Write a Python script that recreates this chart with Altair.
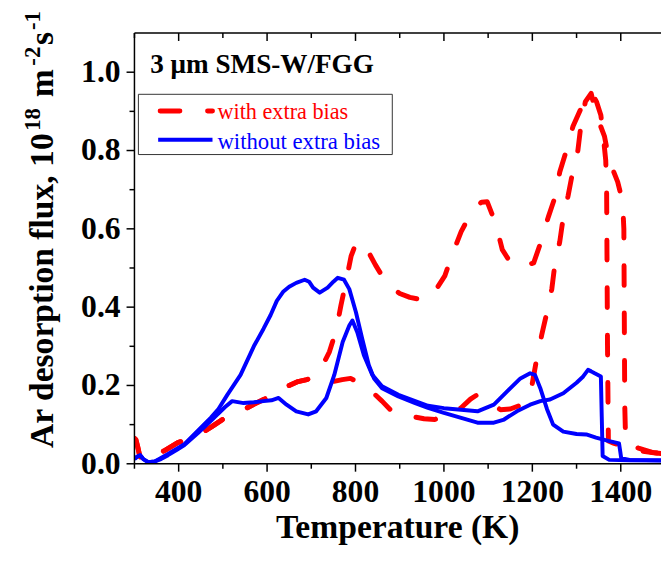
import altair as alt
import pandas as pd

# ---------------- data ----------------
# shared start of the two "with extra bias" runs
red_common_T = [300, 303, 307, 312, 318, 330, 346, 370, 398, 420, 447, 475, 499, 525, 547, 570, 592, 620, 644, 670, 690, 707]
red_common_F = [0.065, 0.062, 0.045, 0.02, 0.008, 0.01, 0.02, 0.035, 0.054, 0.062, 0.075, 0.095, 0.113, 0.126, 0.138, 0.152, 0.164, 0.18, 0.197, 0.21, 0.215, 0.222]

red1_T = [725, 741, 756, 767, 778, 790, 800, 812, 825, 845, 860, 875, 900, 923, 945, 964, 985, 1002, 1020, 1039, 1065, 1085, 1098, 1117, 1132, 1147, 1162, 1180, 1203, 1218, 1236, 1251, 1262, 1277, 1292, 1315, 1335, 1345, 1355, 1361, 1366, 1368, 1370, 1372, 1385, 1400, 1420, 1450, 1475, 1491]
red1_F = [0.25, 0.286, 0.34, 0.404, 0.463, 0.53, 0.56, 0.568, 0.55, 0.508, 0.48, 0.454, 0.435, 0.425, 0.42, 0.42, 0.45, 0.48, 0.538, 0.593, 0.648, 0.668, 0.669, 0.614, 0.547, 0.52, 0.505, 0.505, 0.513, 0.562, 0.63, 0.68, 0.745, 0.80, 0.862, 0.92, 0.946, 0.925, 0.89, 0.83, 0.775, 0.70, 0.30, 0.058, 0.052, 0.048, 0.04, 0.032, 0.028, 0.026]

red2_T = [741, 770, 789, 810, 825, 841, 860, 879, 905, 931, 955, 979, 1005, 1039, 1060, 1075, 1087, 1110, 1128, 1150, 1177, 1190, 1199, 1210, 1221, 1233, 1244, 1251, 1262, 1270, 1281, 1292, 1303, 1310, 1320, 1333, 1345, 1363, 1374, 1393, 1404, 1407, 1409, 1411, 1420, 1440, 1471, 1491]
red2_F = [0.208, 0.215, 0.218, 0.205, 0.19, 0.18, 0.16, 0.138, 0.125, 0.12, 0.115, 0.113, 0.125, 0.143, 0.165, 0.176, 0.168, 0.152, 0.138, 0.14, 0.151, 0.175, 0.2, 0.269, 0.328, 0.387, 0.446, 0.51, 0.567, 0.63, 0.685, 0.75, 0.80, 0.866, 0.925, 0.946, 0.89, 0.837, 0.774, 0.72, 0.67, 0.6, 0.15, 0.06, 0.048, 0.04, 0.029, 0.026]

blue1_T = [300, 306, 313, 320, 331, 346, 360, 376, 395, 413, 443, 473, 490, 510, 540, 570, 592, 608, 622, 637, 650, 666, 685, 695, 704, 719, 737, 750, 760, 774, 786, 801, 815, 830, 842, 860, 897, 935, 964, 1000, 1039, 1076, 1113, 1136, 1165, 1195, 1218, 1240, 1270, 1300, 1315, 1326, 1333, 1341, 1355, 1357, 1359, 1374, 1420, 1491]
blue1_F = [0.012, 0.018, 0.022, 0.012, 0.004, 0.006, 0.015, 0.025, 0.038, 0.05, 0.084, 0.118, 0.14, 0.176, 0.227, 0.30, 0.345, 0.38, 0.416, 0.44, 0.452, 0.462, 0.47, 0.465, 0.45, 0.437, 0.45, 0.465, 0.475, 0.47, 0.446, 0.387, 0.32, 0.252, 0.218, 0.193, 0.172, 0.155, 0.143, 0.13, 0.117, 0.105, 0.105, 0.113, 0.134, 0.151, 0.16, 0.164, 0.18, 0.207, 0.223, 0.24, 0.236, 0.231, 0.223, 0.12, 0.02, 0.01, 0.009, 0.008]

blue2_T = [300, 306, 313, 320, 331, 346, 360, 376, 395, 413, 443, 473, 488, 505, 521, 547, 570, 592, 610, 626, 644, 666, 693, 711, 734, 752, 771, 786, 793, 804, 819, 838, 860, 897, 935, 964, 1000, 1039, 1076, 1113, 1143, 1173, 1195, 1206, 1218, 1233, 1247, 1270, 1300, 1322, 1344, 1374, 1396, 1399, 1401, 1420, 1491]
blue2_F = [0.012, 0.018, 0.022, 0.012, 0.004, 0.006, 0.012, 0.022, 0.035, 0.048, 0.078, 0.11, 0.126, 0.145, 0.16, 0.155, 0.157, 0.16, 0.162, 0.168, 0.151, 0.134, 0.126, 0.134, 0.168, 0.227, 0.311, 0.353, 0.366, 0.336, 0.277, 0.227, 0.198, 0.176, 0.16, 0.148, 0.142, 0.138, 0.134, 0.151, 0.185, 0.218, 0.231, 0.227, 0.193, 0.14, 0.10, 0.082, 0.076, 0.075, 0.067, 0.058, 0.052, 0.03, 0.014, 0.01, 0.009]

series_names = ["with extra bias", "without extra bias"]
x_major = [400, 600, 800, 1000, 1200, 1400]
x_major_labels = ["400", "600", "800", "1000", "1200", "1400"]
x_minor = [300, 500, 700, 900, 1100, 1300]
y_major = [0.0, 0.2, 0.4, 0.6, 0.8, 1.0]
y_major_labels = ["0.0", "0.2", "0.4", "0.6", "0.8", "1.0"]
y_minor = [0.1, 0.3, 0.5, 0.7, 0.9]
sample_label = "3 \u03bcm SMS-W/FGG"
x_title = "Temperature (K)"
y_title_parts = ["Ar desorption flux, 10", "18", "m", "-2", "s", "-1"]

# ---------------- layout ----------------
W, H = 533, 436
FONT = "Liberation Serif"
RED = "#ff0000"
BLUE = "#0000ff"

xs = alt.Scale(domain=[300, 1491], nice=False, zero=False)
ys = alt.Scale(domain=[0, 1.1], nice=False, zero=False)


def runs_df(runs):
    rows = []
    for name, Ts, Fs in runs:
        for t, f in zip(Ts, Fs):
            rows.append({"T": t, "flux": f, "run": name})
    return pd.DataFrame(rows)


red_df = runs_df([("r1", red_common_T + red1_T, red_common_F + red1_F),
                  ("r2", red_common_T + red2_T, red_common_F + red2_F)])
blue_df = runs_df([("b1", blue1_T, blue1_F), ("b2", blue2_T, blue2_F)])

red = alt.Chart(red_df).mark_line(color=RED, strokeWidth=5, strokeDash=[20, 28], strokeCap="round",
                                  strokeJoin="round", clip=True).encode(
    x=alt.X("T:Q", scale=xs, axis=None),
    y=alt.Y("flux:Q", scale=ys, axis=None),
    detail="run:N",
)
blue = alt.Chart(blue_df).mark_line(color=BLUE, strokeWidth=4, strokeJoin="round", clip=True).encode(
    x=alt.X("T:Q", scale=xs, axis=None),
    y=alt.Y("flux:Q", scale=ys, axis=None),
    detail="run:N",
)

one = pd.DataFrame({"i": [0]})
xminor_df = pd.DataFrame({"t": x_minor})
xmajor_df = pd.DataFrame({"t": x_major, "lab": x_major_labels})
yminor_df = pd.DataFrame({"v": y_minor})
ymajor_df = pd.DataFrame({"v": y_major, "lab": y_major_labels})

# ---- axes drawn from the tick lists through the shared scales ----
tick_style = dict(color="black", strokeWidth=1.5)
bottom_line = alt.Chart(one).mark_rule(**tick_style).encode(
    x=alt.value(0), x2=alt.value(W), y=alt.value(H))
left_line = alt.Chart(one).mark_rule(**tick_style).encode(
    x=alt.value(0), y=alt.value(0), y2=alt.value(H))
top_line = alt.Chart(one).mark_rule(**tick_style).encode(
    x=alt.value(0), x2=alt.value(W), y=alt.value(0))

bottom_major = alt.Chart(xmajor_df).mark_rule(**tick_style).encode(
    x=alt.X("t:Q", scale=xs, axis=None), y=alt.value(H), y2=alt.value(H + 8))
bottom_minor = alt.Chart(xminor_df).mark_rule(**tick_style).encode(
    x=alt.X("t:Q", scale=xs, axis=None), y=alt.value(H), y2=alt.value(H + 5))
top_major = alt.Chart(xmajor_df).mark_rule(**tick_style).encode(
    x=alt.X("t:Q", scale=xs, axis=None), y=alt.value(0), y2=alt.value(8))
top_minor = alt.Chart(xminor_df).mark_rule(**tick_style).encode(
    x=alt.X("t:Q", scale=xs, axis=None), y=alt.value(0), y2=alt.value(5))
left_major = alt.Chart(ymajor_df).mark_rule(**tick_style).encode(
    y=alt.Y("v:Q", scale=ys, axis=None), x=alt.value(-8), x2=alt.value(0))
left_minor = alt.Chart(yminor_df).mark_rule(**tick_style).encode(
    y=alt.Y("v:Q", scale=ys, axis=None), x=alt.value(-5), x2=alt.value(0))

x_labels = alt.Chart(xmajor_df).mark_text(font=FONT, fontSize=32, fontWeight="bold", color="black",
                                          align="center", baseline="alphabetic").encode(
    x=alt.X("t:Q", scale=xs, axis=None), y=alt.value(H + 39), text="lab:N")
y_labels = alt.Chart(ymajor_df).mark_text(font=FONT, fontSize=32, fontWeight="bold", color="black",
                                          align="right", baseline="middle").encode(
    y=alt.Y("v:Q", scale=ys, axis=None), x=alt.value(-14), text="lab:N")


def label(text, x, y, size, weight="bold", color="black", angle=0, align="left"):
    return alt.Chart(one).mark_text(font=FONT, fontSize=size, fontWeight=weight, color=color,
                                    align=align, baseline="alphabetic", angle=angle).encode(
        x=alt.value(x), y=alt.value(y), text=alt.value(text))


xtitle = label(x_title, W / 2, H + 75, 34, align="center")

# rotated y title with superscripts
ytitle = [
    label(y_title_parts[0], -82, 420, 34, angle=270),
    label(y_title_parts[1], -96, 99, 23, angle=270),
    label(y_title_parts[2], -82, 65, 34, angle=270),
    label(y_title_parts[3], -96, 33, 23, angle=270),
    label(y_title_parts[4], -82, 12, 34, angle=270),
    label(y_title_parts[5], -96, -3, 23, angle=270),
]

annot = label(sample_label, 16, 40, 27.5)

# legend
leg_box = alt.Chart(one).mark_rect(fill="white", stroke="#333333", strokeWidth=1).encode(
    x=alt.value(4), x2=alt.value(261), y=alt.value(62), y2=alt.value(123))
leg_red = alt.Chart(one).mark_rule(color=RED, strokeWidth=5, strokeDash=[20, 28], strokeCap="round").encode(
    x=alt.value(26), x2=alt.value(79), y=alt.value(79))
leg_blue = alt.Chart(one).mark_rule(color=BLUE, strokeWidth=4).encode(
    x=alt.value(24), x2=alt.value(79), y=alt.value(108))
leg_t1 = label(series_names[0], 84, 87, 22.5, weight="normal", color=RED)
leg_t2 = label(series_names[1], 84, 117, 23, weight="normal", color=BLUE)

chart = alt.layer(
    red, blue,
    bottom_line, left_line, top_line,
    bottom_major, bottom_minor, top_major, top_minor, left_major, left_minor,
    x_labels, y_labels, xtitle, *ytitle,
    annot, leg_box, leg_red, leg_blue, leg_t1, leg_t2,
).properties(
    width=W, height=H,
    padding={"left": 128, "top": 22, "right": 0, "bottom": 90},
    autosize=alt.AutoSizeParams(type="none"),
    background="white",
).configure_view(stroke="transparent")

chart.save("out.html", embed_options={"renderer": "svg", "actions": False})
